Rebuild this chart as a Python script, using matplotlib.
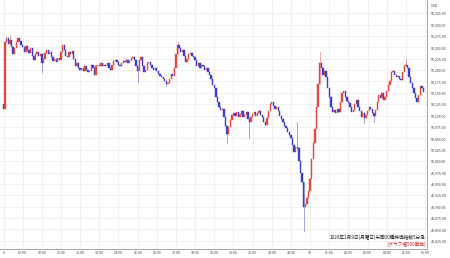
import matplotlib
matplotlib.use("Agg")
import matplotlib.pyplot as plt
from matplotlib.patches import Rectangle

plt.rcParams['font.family'] = ['Noto Sans CJK JP', 'DejaVu Sans']

# 5-minute closes, one row per hour, 08:00 (Feb 9) -> 06:00 (Feb 10)
closes = [
    50115, 50262, 50270, 50258, 50266, 50250, 50236, 50248, 50262, 50270, 50265, 50255,
    50250, 50240, 50252, 50245, 50238, 50248, 50232, 50222, 50235, 50240, 50230, 50236,
    50215, 50225, 50238, 50244, 50235, 50240, 50228, 50220, 50225, 50218, 50226, 50222,
    50240, 50255, 50245, 50232, 50228, 50240, 50236, 50242, 50225, 50210, 50215, 50205,
    50200, 50205, 50198, 50208, 50200, 50195, 50198, 50212, 50205, 50190, 50208, 50212,
    50210, 50215, 50208, 50212, 50210, 50216, 50205, 50200, 50212, 50220, 50222, 50218,
    50212, 50208, 50215, 50220, 50218, 50222, 50216, 50220, 50226, 50228, 50222, 50210,
    50198, 50222, 50228, 50210, 50195, 50200, 50215, 50218, 50212, 50205, 50200, 50204,
    50198, 50192, 50188, 50185, 50180, 50175, 50170, 50172, 50180, 50192, 50188, 50205,
    50235, 50255, 50248, 50240, 50245, 50232, 50218, 50225, 50235, 50238, 50230, 50228,
    50222, 50210, 50215, 50205, 50212, 50208, 50200, 50205, 50195, 50190, 50180, 50168,
    50160, 50142, 50130, 50118, 50112, 50115, 50098, 50078, 50060, 50075, 50090, 50102,
    50105, 50100, 50108, 50098, 50104, 50110, 50096, 50102, 50108, 50092, 50085, 50098,
    50104, 50108, 50100, 50106, 50110, 50102, 50098, 50085, 50080, 50095, 50110, 50125,
    50130, 50122, 50115, 50120, 50110, 50100, 50092, 50085, 50078, 50072, 50065, 50058,
    50050, 50035, 50020, 50032, 50028, 50000, 49975, 49955, 49900, 49905, 49920, 49935,
    49960, 50005, 50040, 50070, 50120, 50170, 50215, 50205, 50190, 50198, 50185, 50160,
    50140, 50120, 50108, 50112, 50105, 50115, 50108, 50130, 50150, 50155, 50140, 50132,
    50128, 50118, 50108, 50112, 50125, 50134, 50120, 50110, 50098, 50105, 50095, 50102,
    50110, 50118, 50115, 50105, 50100, 50112, 50130, 50145, 50138, 50150, 50135, 50140,
    50155, 50168, 50175, 50195, 50198, 50190, 50185, 50188, 50180, 50178, 50195, 50210,
    50212, 50205, 50185, 50172, 50160, 50150, 50138, 50130, 50145, 50165, 50160, 50152,
]
first_open = 50125

# notable wicks (candle index -> price)
wick_high = {4: 50277, 109: 50262, 184: 50085, 198: 50240, 252: 50225}
wick_low = {24: 50196, 84: 50173, 102: 50165, 140: 50040, 154: 50050,
            188: 49847, 226: 50083, 232: 50085}

hour_labels = ["9", "09:00", "10:00", "11:00", "12:00", "13:00", "14:00", "15:00",
               "16:00", "17:00", "18:00", "19:00", "20:00", "21:00", "22:00", "23:00",
               "10", "01:00", "02:00", "03:00", "04:00", "05:00", "06:00"]
price_ticks = list(range(49825, 50326, 25))

title = "2026年2月9日(月曜日)米国30種株価指数5分足"
note = "(グラフ幅500単位)"

up_color = "#e8473f"
down_color = "#3a3fd0"

opens = [first_open] + closes[:-1]

fig = plt.figure(figsize=(4.5, 2.58), dpi=100)
ax = fig.add_axes([0, 9 / 258, 427 / 450, 249 / 258])

for i, (o, c) in enumerate(zip(opens, closes)):
    col = up_color if c >= o else down_color
    hi = wick_high.get(i, max(o, c))
    lo = wick_low.get(i, min(o, c))
    if hi > max(o, c) or lo < min(o, c):
        ax.plot([i, i], [lo, hi], color=col, lw=0.6, alpha=0.55, zorder=2)
    body = max(abs(c - o), 1.5)
    ax.add_patch(Rectangle((i - 0.42, min(o, c)), 0.84, body, facecolor=col,
                           edgecolor=col, lw=0.3, zorder=3))

ax.set_xlim(-2.2, 265.2)
ax.set_ylim(49807, 50354)

ax.set_xticks(range(0, 12 * len(hour_labels), 12))
ax.set_xticklabels(hour_labels)
ax.set_yticks(price_ticks)
ax.set_yticklabels([f"{p:,.2f}" for p in price_ticks])
ax.yaxis.tick_right()
ax.tick_params(axis='both', labelsize=2.6, length=0, colors="#444444", pad=1.5)
ax.tick_params(axis='y', pad=2.5)

ax.grid(True, color="#ececec", lw=0.5, zorder=0)
ax.set_axisbelow(True)

for side in ["left", "top"]:
    ax.spines[side].set_visible(False)
ax.spines["right"].set_color("#999999")
ax.spines["bottom"].set_color("#999999")
ax.spines["right"].set_linewidth(0.6)
ax.spines["bottom"].set_linewidth(0.6)

fig.text(431 / 450, 1 - 6 / 258, "USD", fontsize=2.6, color="#444444",
         ha="left", va="center")
ax.text(0.997, 0.046, title, transform=ax.transAxes, fontsize=3.3,
        ha="right", va="center", color="#222222")
ax.text(0.997, 0.020, note, transform=ax.transAxes, fontsize=3.3,
        ha="right", va="center", color="#d02020")

fig.savefig("out.png", dpi=100)
